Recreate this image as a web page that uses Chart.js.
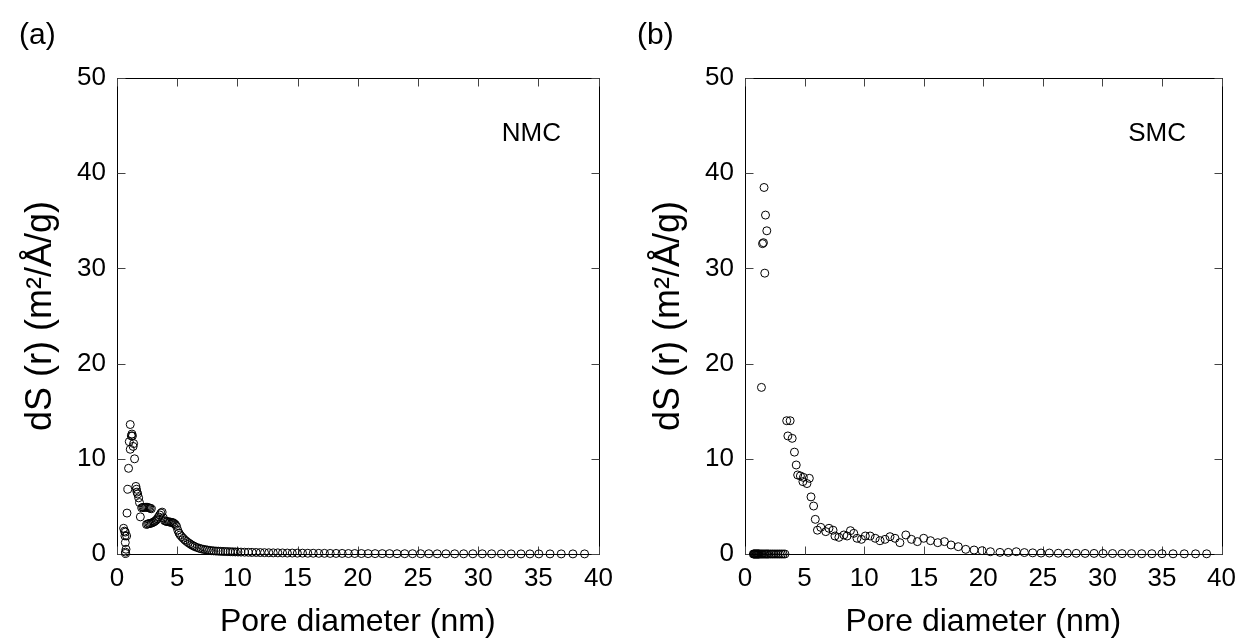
<!DOCTYPE html>
<html>
<head>
<meta charset="utf-8">
<script src="https://cdn.jsdelivr.net/npm/chart.js@4.4.1/dist/chart.umd.min.js"></script>
<style>
  html, body { margin: 0; padding: 0; background: #fff; }
  #wrap { position: relative; width: 1245px; height: 639px; overflow: hidden; }
  canvas { position: absolute; top: 0; }
  #chartA { left: 0; }
  #chartB { left: 628px; }
</style>
</head>
<body>
<div id="wrap">
  <canvas id="chartA" width="622" height="639"></canvas>
  <canvas id="chartB" width="617" height="639"></canvas>
</div>
<script>
// ============ DATA ============
const xTicks = [0, 5, 10, 15, 20, 25, 30, 35, 40];
const yTicks = [0, 10, 20, 30, 40, 50];

// (a) NMC - pore diameter (nm) / dS(r)
const nmcDiameter = [
  0.55, 0.62, 0.69, 0.80, 0.66, 0.69, 0.75, 0.70, 0.72,
  0.83, 0.90, 0.96, 1.02, 1.10, 1.10, 1.19, 1.24, 1.28, 1.38, 1.34, 1.46,
  1.57, 1.62, 1.66, 1.72, 1.80, 1.87, 1.94,
  2.05, 2.15, 2.25, 2.35, 2.45, 2.55, 2.65, 2.75, 2.85,
  2.45, 2.55, 2.65, 2.75, 2.85, 2.95, 3.05, 3.15, 3.25, 3.35, 3.45, 3.55, 3.65, 3.75,
  3.85, 3.95, 4.05, 4.15, 4.25, 4.35, 4.45, 4.55, 4.65, 4.75, 4.85, 4.95, 5.05, 5.15,
  5.25, 5.37, 5.50, 5.64, 5.78, 5.92, 6.06, 6.20, 6.34, 6.47, 6.65, 6.83, 7.00, 7.17,
  7.34, 7.50, 7.68, 7.85, 8.03, 8.22, 8.41, 8.60, 8.80, 9.00, 9.20, 9.41, 9.62, 9.83,
  10.05, 10.3, 10.6, 10.91, 11.23, 11.56, 11.9, 12.25, 12.61, 12.98, 13.36, 13.75,
  14.15, 14.56, 14.98, 15.41, 15.85, 16.3, 16.76, 17.23, 17.71, 18.2, 18.7, 19.22,
  19.75, 20.3, 20.86, 21.44, 22.03, 22.64, 23.26, 23.9, 24.55, 25.22, 25.9, 26.6,
  27.32, 28.05, 28.8, 29.56, 30.34, 31.12, 31.93, 32.74, 33.56, 34.3, 35.04, 35.97,
  36.9, 37.87, 38.84
];
const nmcDS = [
  2.7, 2.4, 2.3, 1.9, 1.9, 1.2, 0.5, 0.2, 0.05,
  4.3, 6.8, 9.0, 11.8, 13.6, 11.0, 12.4, 12.6, 12.4, 11.6, 11.3, 10.0,
  7.1, 6.8, 6.5, 6.3, 5.9, 5.4, 3.9,
  4.85, 4.9, 4.9, 4.9, 4.9, 4.9, 4.85, 4.8, 4.75,
  3.1, 3.15, 3.2, 3.2, 3.25, 3.3, 3.35, 3.45, 3.55, 3.7, 3.9, 4.1, 4.3, 4.4,
  3.8, 3.5, 3.45, 3.4, 3.4, 3.35, 3.35, 3.3, 3.3, 3.2, 3.1, 2.9, 2.5, 2.2,
  2.0, 1.82, 1.65, 1.47, 1.32, 1.19, 1.07, 0.95, 0.86, 0.77, 0.68, 0.6, 0.54, 0.49,
  0.45, 0.42, 0.38, 0.35, 0.33, 0.31, 0.3, 0.28, 0.27, 0.26, 0.25, 0.24, 0.23, 0.22,
  0.21, 0.2, 0.19, 0.18, 0.17, 0.16, 0.15, 0.14, 0.13, 0.12, 0.12, 0.11,
  0.1, 0.1, 0.09, 0.09, 0.08, 0.08, 0.07, 0.07, 0.06, 0.06, 0.06, 0.05,
  0.05, 0.05, 0.04, 0.04, 0.04, 0.04, 0.03, 0.03, 0.03, 0.03, 0.03, 0.02,
  0.02, 0.02, 0.02, 0.02, 0.02, 0.02, 0.02, 0.01, 0.01, 0.01, 0.01, 0.01,
  0.01, 0.01, 0.01
];

// (b) SMC
const smcDiameter = [
  0.70, 0.75, 0.80, 0.85, 0.90, 0.95, 1.00, 1.05, 1.10, 1.15, 1.20, 1.30, 1.40,
  1.50, 1.60, 1.70, 1.80, 1.90, 2.00, 2.15, 2.30, 2.45, 2.60, 2.75, 2.90, 3.05,
  3.20, 3.35,
  1.38, 1.47, 1.55, 1.60, 1.66, 1.72, 1.83,
  3.50, 3.79, 3.60, 3.96, 4.15, 4.30, 4.42, 4.65, 4.86, 4.90, 5.20, 5.40, 5.54,
  5.76, 5.90, 6.08, 6.36, 6.78, 7.05, 7.39, 7.55, 7.88, 8.30, 8.57, 8.85, 9.13,
  9.40, 9.77, 10.1, 10.5, 10.93, 11.34, 11.76, 12.17, 12.59, 13.0, 13.5, 13.97,
  14.47, 15.0, 15.57, 16.18, 16.74, 17.29, 17.9, 18.53, 19.23, 19.9, 20.6, 21.4,
  22.1, 22.77, 23.45, 24.15, 24.85, 25.55, 26.3, 27.05, 27.8, 28.55, 29.3, 30.05,
  30.85, 31.65, 32.45, 33.3, 34.15, 35.0, 35.93, 36.87, 37.82, 38.75
];
const smcDS = [
  0, 0, 0, 0, 0, 0, 0, 0, 0, 0, 0, 0, 0,
  0, 0, 0, 0, 0, 0, 0, 0, 0, 0, 0, 0, 0,
  0, 0,
  17.5, 32.6, 32.7, 38.5, 29.5, 35.6, 33.95,
  14.0, 14.0, 12.4, 12.15, 10.7, 9.35, 8.3, 8.2, 7.6, 8.05, 7.4, 7.95, 6.0,
  5.04, 3.64, 2.5, 2.8, 2.35, 2.7, 2.5, 1.89, 1.75, 2.0, 1.89, 2.45, 2.17,
  1.65, 1.54, 1.89, 1.89, 1.65, 1.4, 1.54, 1.82, 1.65, 1.19, 2.0, 1.54,
  1.3, 1.65, 1.4, 1.19, 1.3, 0.95, 0.77, 0.49, 0.42, 0.35, 0.24, 0.17,
  0.17, 0.24, 0.15, 0.12, 0.1, 0.1, 0.08, 0.08, 0.07, 0.06, 0.06, 0.05,
  0.05, 0.04, 0.04, 0.03, 0.03, 0.03, 0.02, 0.02, 0.02, 0.02
];

// ============ HELPERS ============
const FONT = "'Liberation Sans', Arial, sans-serif";

function toPoints(xs, ys) {
  return xs.map((x, i) => ({ x, y: ys[i] }));
}

// frame box + inward ticks on all four sides, plus the panel texts
function framePlugin(panelLabel, sampleName, sampleRight) {
  return {
    id: "frame",
    beforeDatasetsDraw(chart) {
      const { ctx, chartArea: a, scales: { x, y } } = chart;
      const L = Math.round(a.left) + 0.5, R = Math.round(a.right) + 0.5;
      const T = Math.round(a.top) + 0.5, B = Math.round(a.bottom) + 0.5;
      ctx.save();
      ctx.strokeStyle = "#000";
      ctx.lineWidth = 1;
      ctx.strokeRect(L, T, R - L, B - T);
      ctx.strokeStyle = "#444";
      ctx.beginPath();
      xTicks.forEach((v) => {
        const px = Math.round(x.getPixelForValue(v)) + 0.5;
        ctx.moveTo(px, B); ctx.lineTo(px, B - 8);
        ctx.moveTo(px, T); ctx.lineTo(px, T + 8);
      });
      yTicks.forEach((v) => {
        const py = Math.round(y.getPixelForValue(v)) + 0.5;
        ctx.moveTo(L, py); ctx.lineTo(L + 8, py);
        ctx.moveTo(R, py); ctx.lineTo(R - 8, py);
      });
      ctx.stroke();
      ctx.restore();
    },
    afterDraw(chart) {
      const { ctx } = chart;
      ctx.save();
      ctx.fillStyle = "#000";
      ctx.textBaseline = "alphabetic";
      ctx.font = `30px ${FONT}`;
      ctx.textAlign = "left";
      ctx.fillText(panelLabel.text, panelLabel.x, 44);
      ctx.font = `26px ${FONT}`;
      ctx.textAlign = "right";
      ctx.fillText(sampleName, sampleRight, 141);
      ctx.restore();
    }
  };
}

function makeChart(canvasId, xs, ys, padRight, panelLabel, sampleName, sampleRight) {
  const ctx = document.getElementById(canvasId).getContext("2d");
  return new Chart(ctx, {
    type: "scatter",
    data: {
      datasets: [{
        data: toPoints(xs, ys),
        pointStyle: "circle",
        pointRadius: 4,
        pointHoverRadius: 4,
        borderWidth: 1,
        borderColor: "#000",
        backgroundColor: "rgba(0,0,0,0)",
        clip: false,
      }]
    },
    options: {
      responsive: false,
      animation: false,
      devicePixelRatio: 1,
      layout: { padding: { top: 78, right: padRight, bottom: 0, left: 0 } },
      plugins: { legend: { display: false }, tooltip: { enabled: false } },
      scales: {
        x: {
          type: "linear",
          min: 0, max: 40,
          afterBuildTicks: (s) => { s.ticks = xTicks.map((v) => ({ value: v })); },
          afterFit: (s) => { s.height = 85; },
          grid: { display: false, drawTicks: false },
          border: { display: false },
          ticks: { color: "#000", padding: 9, font: { family: FONT, size: 26 } },
          title: {
            display: true,
            text: "Pore diameter (nm)",
            color: "#000",
            padding: { top: 0, bottom: -2 },
            font: { family: FONT, size: 32, lineHeight: 1.2 }
          }
        },
        y: {
          type: "linear",
          min: 0, max: 50,
          afterBuildTicks: (s) => { s.ticks = yTicks.map((v) => ({ value: v })); },
          afterFit: (s) => { s.width = 117; },
          grid: { display: false, drawTicks: false },
          border: { display: false },
          ticks: { color: "#000", padding: 11, font: { family: FONT, size: 26 } },
          title: {
            display: true,
            text: "dS (r) (m²/Å/g)",
            color: "#000",
            padding: { top: 19, bottom: 0 },
            font: { family: FONT, size: 36, lineHeight: 1.2 }
          }
        }
      }
    },
    plugins: [framePlugin(panelLabel, sampleName, sampleRight)]
  });
}

// ============ RENDER ============
makeChart("chartA", nmcDiameter, nmcDS, 23, { text: "(a)", x: 19 }, "NMC", 561);
makeChart("chartB", smcDiameter, smcDS, 18, { text: "(b)", x: 9 }, "SMC", 558);
</script>
</body>
</html>
